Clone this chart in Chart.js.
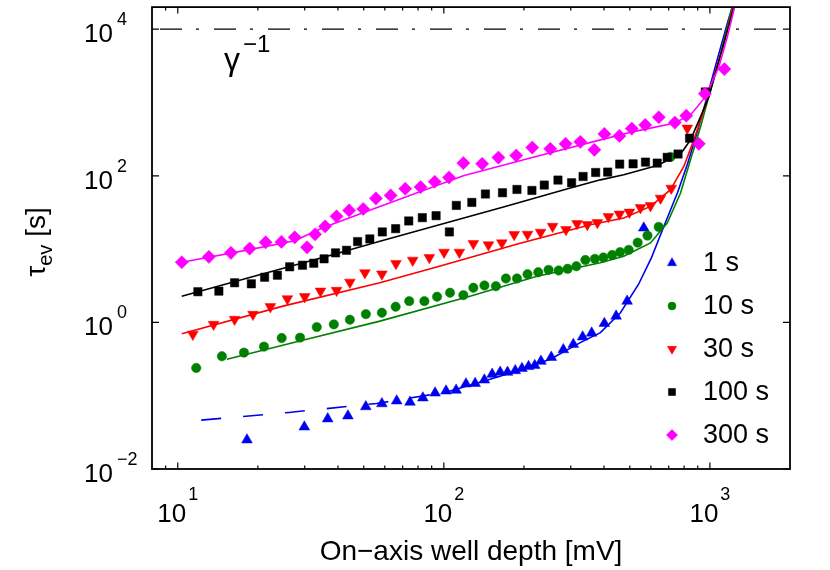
<!DOCTYPE html>
<html>
<head>
<meta charset="utf-8">
<script src="https://cdn.jsdelivr.net/npm/chart.js@4.4.1/dist/chart.umd.min.js"></script>
<style>
  html, body { margin: 0; padding: 0; background: #fff; }
  #wrap { width: 830px; height: 570px; }
</style>
</head>
<body>
<div id="wrap"><canvas id="chart" width="830" height="570"></canvas></div>
<script>
// axis ticks (powers of ten), minor x ticks
const xTickExp = [1, 2, 3];
const xMinorTicks = [9, 20, 30, 40, 50, 60, 70, 80, 90, 200, 300, 400, 500, 600, 700, 800, 900];
const yTickExp = [-2, 0, 2, 4];

const seriesLabels = ['1 s', '10 s', '30 s', '100 s', '300 s'];
const gammaInv = 1e4;

// 1 s
const depth1 = [18.2, 29.9, 36.6, 43.6, 50.9, 58.5, 66.5, 74.6, 83.4, 92.7, 101.9, 111.2, 121.1, 131.1, 142, 151.9, 162.8, 173.5, 185.5, 196.6, 208.1, 219.6, 231.7, 253.4, 281.2, 306.6, 332.4, 359.4, 401.2, 444.1, 488.5, 564.2];
const tau1 = [0.025, 0.0375, 0.0484, 0.0531, 0.0709, 0.0778, 0.085, 0.0816, 0.0934, 0.109, 0.116, 0.119, 0.145, 0.147, 0.164, 0.196, 0.209, 0.209, 0.22, 0.235, 0.25, 0.258, 0.295, 0.334, 0.425, 0.502, 0.635, 0.715, 0.969, 1.22, 1.95, 19.4];
const fitDepth1 = [12.25, 26.2, 55.9, 101.9, 162.8, 251.2, 325.8, 387.6, 461.1, 538.8, 603.2, 675.2, 755.4, 824.1, 898.8, 980.2, 1069, 1166, 1228];
const fitTau1 = [0.0464, 0.0591, 0.0783, 0.1116, 0.184, 0.314, 0.53, 0.724, 1.355, 3.29, 7.66, 21.5, 58.7, 145.6, 409.6, 1265, 4031, 12450, 23280];
const dashedUpTo1 = 102;

// 10 s
const depth10 = [11.73, 14.65, 17.73, 21.08, 24.58, 28.81, 33.3, 38.59, 44.34, 50.93, 58.5, 65.9, 74.1, 84.5, 94.3, 105.5, 118.4, 129.1, 142.1, 156.9, 171.1, 188.3, 206.3, 226.4, 247.5, 270.1, 291.9, 314.8, 340.3, 369.6, 397.8, 429.1, 459.8, 495.3, 535.1, 582.5, 642, 711.2];
const tau10 = [0.239, 0.345, 0.387, 0.467, 0.612, 0.619, 0.863, 0.939, 1.088, 1.297, 1.355, 1.636, 1.949, 1.949, 2.237, 2.536, 2.351, 2.966, 3.187, 3.118, 3.968, 3.968, 4.54, 4.83, 5.21, 5.1, 5.38, 5.83, 7.09, 7.36, 7.66, 8.29, 9.1, 9.75, 12.25, 15.27, 20.05, 181.3];
const fitDepth10 = [15.3, 28.73, 57.5, 125.5, 223.9, 387.6, 474.5, 598, 691.1, 775.6, 845.6, 922.6, 1006, 1097, 1196, 1225];
const fitTau10 = [0.314, 0.557, 1.04, 2.28, 4.27, 6.49, 7.98, 12.14, 22.7, 58.2, 165.1, 468.6, 1479, 4670, 16360, 23000];

// 30 s
const depth30 = [11.39, 13.63, 16.35, 19.17, 22.28, 25.82, 30, 34.38, 39.51, 44.34, 50.5, 58.5, 66.07, 76.4, 88.2, 100.2, 114.4, 129.1, 147.1, 165.2, 183.8, 206.3, 231, 256.3, 287.8, 316.7, 346.2, 377.6, 415.3, 457, 498.3, 548.3, 598, 652.2, 715.5, 822.2];
const tau30 = [0.687, 0.939, 1.099, 1.285, 1.636, 2.1, 2.24, 2.67, 2.73, 3.53, 4.75, 4.57, 6.35, 7.04, 7.66, 9.05, 9.05, 11.88, 11.41, 12.14, 15.75, 15.9, 16.93, 20.4, 18.42, 22.23, 21.54, 22.94, 27.68, 29.94, 31.87, 36.7, 39.07, 49.4, 67.6, 445.6];
const fitDepth30 = [10.35, 24.86, 57.5, 94, 193.6, 355.3, 474.5, 598, 711.2, 798, 870.5, 949.3, 1035, 1129, 1214, 1240];
const fitTau30 = [0.702, 1.666, 3.47, 5.7, 12.0, 21.5, 26.6, 38.2, 64.5, 133.8, 309, 790.7, 2244, 6389, 18140, 23000];

// 100 s
const depth100 = [11.9, 14.27, 16.35, 18.9, 21.2, 23.68, 26.34, 29.42, 32.44, 35.47, 39.16, 43.08, 47.4, 52.7, 58.7, 65.9, 73.8, 83, 93.5, 104.9, 111.4, 127.4, 143.3, 166.1, 188.3, 214.3, 238.5, 268.5, 302.1, 333.7, 372.1, 412.8, 458.1, 514.4, 572.6, 633.8, 691.1, 759, 838.4, 960.9];
const tau100 = [2.62, 2.67, 3.47, 3.36, 4.13, 4.4, 5.73, 6.02, 6.41, 7.36, 8.88, 9.63, 12.65, 13.76, 17.14, 19, 24.19, 26.83, 28.56, 17.14, 39.4, 43.3, 56.4, 58.7, 65.1, 63.1, 74.7, 87.4, 80.3, 97.8, 110.9, 112.3, 144.3, 145.6, 153.6, 148.9, 178.5, 198, 325.8, 1390];
const fitDepth100 = [10.35, 18.62, 37.3, 57.5, 94, 167.5, 298.8, 387.6, 474.5, 633.8, 721.6, 787, 845.6, 922.6, 991, 1066, 1146, 1231, 1242];
const fitTau100 = [2.28, 4.1, 8.2, 12.8, 21, 37.5, 68, 88, 103.2, 138.1, 174.1, 214.1, 309, 641, 1199, 3069, 7857, 20110, 23000];

// 300 s
const depth300 = [10.35, 13.09, 15.84, 18.62, 21.39, 24.52, 27.51, 30.61, 32.81, 35.79, 39.51, 44.06, 49.77, 55.54, 63.1, 71.6, 81.8, 92.4, 104.6, 118.4, 139.3, 160.4, 187.1, 214.9, 251.2, 286.8, 325.8, 367.9, 401.2, 457, 508.5, 571.2, 642.6, 738.3, 814.9, 908.8, 957.6, 1133];
const tau300 = [6.61, 7.83, 8.88, 10.16, 12.37, 12.53, 14.47, 10.58, 15.9, 20.43, 27.94, 33.72, 35.23, 49.12, 53.95, 66.56, 70.2, 82.9, 94.8, 148.9, 145.6, 177.4, 188.9, 242.7, 232.9, 272.5, 290.1, 225.8, 372.7, 350.1, 440.1, 494.1, 628.9, 531.1, 661.4, 272.5, 1317, 2856];
const fitDepth300 = [10.35, 18.62, 27.5, 35.1, 57.5, 118.4, 214.9, 387.6, 517.2, 731.8, 845.6, 963.4, 1081, 1163, 1239, 1250];
const fitTau300 = [6.61, 9.84, 13.0, 19.6, 38.2, 100, 177, 309, 400.6, 521, 676, 1199, 3069, 7857, 20110, 23000];

const FONT = "'Liberation Sans', Arial, Helvetica, sans-serif";
const colors = ['#0000f0', '#008000', '#ff0000', '#000000', '#ff00ff'];
const styles = [
  { pointStyle: 'triangle', radius: 6.2, rotation: 0 },
  { pointStyle: 'circle', radius: 4.7, rotation: 0 },
  { pointStyle: 'triangle', radius: 6.2, rotation: 180 },
  { pointStyle: 'rect', radius: 5.9, rotation: 0 },
  { pointStyle: 'rectRot', radius: 6.6, rotation: 0 }
];

function pts(xs, ys) {
  return xs.map((v, i) => ({ x: v, y: ys[i] }));
}

const markerSets = [[depth1, tau1], [depth10, tau10], [depth30, tau30], [depth100, tau100], [depth300, tau300]];
const fitSets = [[fitDepth1, fitTau1], [fitDepth10, fitTau10], [fitDepth30, fitTau30], [fitDepth100, fitTau100], [fitDepth300, fitTau300]];

const datasets = [];
markerSets.forEach((s, i) => {
  datasets.push({
    label: seriesLabels[i],
    data: pts(s[0], s[1]),
    showLine: false,
    order: 6 - i, // later series drawn on top
    pointStyle: styles[i].pointStyle,
    pointRadius: styles[i].radius,
    pointRotation: styles[i].rotation,
    pointBackgroundColor: colors[i],
    pointBorderColor: colors[i],
    pointBorderWidth: 0.5,
    isMarker: true
  });
});
fitSets.forEach((s, i) => {
  const ds = {
    label: seriesLabels[i] + ' fit',
    data: pts(s[0], s[1]),
    showLine: true,
    order: 20 - i,
    pointRadius: 0,
    borderColor: colors[i],
    borderWidth: 1.6,
    tension: 0,
    clip: 0
  };
  if (i === 0) {
    ds.segment = { borderDash: c => (c.p1.parsed.x <= dashedUpTo1 ? [20, 22] : undefined) };
  }
  datasets.push(ds);
});
datasets.push({
  label: 'gamma',
  data: [{ x: 8, y: gammaInv }, { x: 2000, y: gammaInv }],
  showLine: true,
  order: 30,
  pointRadius: 0,
  borderColor: '#000',
  borderWidth: 1.4,
  borderDash: [22, 14, 3, 15],
  borderDashOffset: 46
});

function fitText(ctx, size) { ctx.font = size + 'px ' + FONT; }

const framePlugin = {
  id: 'frame',
  afterDraw(chart) {
    const ctx = chart.ctx;
    const a = chart.chartArea;
    const xs = chart.scales.x, ys = chart.scales.y;
    ctx.save();
    ctx.strokeStyle = '#000';
    ctx.fillStyle = '#000';
    ctx.lineWidth = 1.8;
    ctx.strokeRect(a.left, a.top, a.right - a.left, a.bottom - a.top);

    ctx.lineWidth = 1.2;
    ctx.beginPath();
    xTickExp.forEach(e => {
      const px = xs.getPixelForValue(Math.pow(10, e));
      ctx.moveTo(px, a.bottom); ctx.lineTo(px, a.bottom - 6.5);
      ctx.moveTo(px, a.top); ctx.lineTo(px, a.top + 6.5);
    });
    xMinorTicks.forEach(v => {
      const px = xs.getPixelForValue(v);
      ctx.moveTo(px, a.bottom); ctx.lineTo(px, a.bottom - 3.5);
      ctx.moveTo(px, a.top); ctx.lineTo(px, a.top + 3.5);
    });
    yTickExp.forEach(e => {
      const py = ys.getPixelForValue(Math.pow(10, e));
      ctx.moveTo(a.left, py); ctx.lineTo(a.left + 7, py);
      ctx.moveTo(a.right, py); ctx.lineTo(a.right - 7, py);
    });
    ctx.stroke();

    ctx.textBaseline = 'alphabetic';
    // x tick labels
    xTickExp.forEach(e => {
      const px = xs.getPixelForValue(Math.pow(10, e));
      fitText(ctx, 26); const wb = ctx.measureText('10').width;
      fitText(ctx, 18); const sup = String(e); const ws = ctx.measureText(sup).width;
      const x0 = px - (wb + ws + 2) / 2;
      ctx.textAlign = 'left';
      fitText(ctx, 26); ctx.fillText('10', x0, a.bottom + 53);
      fitText(ctx, 18); ctx.fillText(sup, x0 + wb + 2, a.bottom + 31);
    });
    // y tick labels
    yTickExp.forEach(e => {
      const py = ys.getPixelForValue(Math.pow(10, e));
      const sup = e < 0 ? '\u2212' + Math.abs(e) : String(e);
      ctx.textAlign = 'right';
      fitText(ctx, 26); ctx.fillText('10', a.left - 39, py + 13);
      ctx.textAlign = 'left';
      fitText(ctx, 18); ctx.fillText(sup, a.left - 35, py - 4);
    });

    // gamma^-1 label
    ctx.textAlign = 'left';
    fitText(ctx, 32); ctx.fillText('\u03b3', 224, 70);
    fitText(ctx, 24); ctx.fillText('\u22121', 243, 52);

    // x axis title
    ctx.textAlign = 'center';
    fitText(ctx, 28);
    ctx.fillText('On\u2212axis well depth [mV]', (a.left + a.right) / 2, 560);

    // y axis title
    ctx.save();
    ctx.translate(45, (a.top + a.bottom) / 2 + 4);
    ctx.rotate(-Math.PI / 2);
    fitText(ctx, 28); const wt = ctx.measureText('\u03c4').width; const wr = ctx.measureText(' [s]').width;
    fitText(ctx, 20); const we = ctx.measureText('ev').width;
    let u = -(wt + we + wr) / 2;
    ctx.textAlign = 'left';
    fitText(ctx, 28); ctx.fillText('\u03c4', u, 0); u += wt;
    fitText(ctx, 20); ctx.fillText('ev', u, 7); u += we;
    fitText(ctx, 28); ctx.fillText(' [s]', u, 0);
    ctx.restore();

    // legend
    const legX = 672, legY = 263, legStep = 43;
    chart.data.datasets.filter(d => d.isMarker).forEach((d, i) => {
      const yy = legY + i * legStep;
      ctx.fillStyle = d.pointBackgroundColor;
      ctx.strokeStyle = d.pointBorderColor;
      ctx.lineWidth = 0.5;
      Chart.helpers.drawPoint(ctx, {
        pointStyle: d.pointStyle, radius: d.pointRadius * 0.85, rotation: d.pointRotation, borderWidth: 0.5
      }, legX, yy);
      ctx.fillStyle = '#000';
      ctx.textAlign = 'left';
      ctx.textBaseline = 'middle';
      fitText(ctx, 27);
      ctx.fillText(d.label, legX + 31, yy + 1);
    });
    ctx.restore();
  }
};

new Chart(document.getElementById('chart').getContext('2d'), {
  type: 'scatter',
  data: { datasets: datasets },
  options: {
    responsive: false,
    animation: false,
    layout: { padding: { left: 152, top: 7, right: 40, bottom: 101 } },
    plugins: { legend: { display: false }, tooltip: { enabled: false } },
    scales: {
      x: { type: 'logarithmic', min: 8, max: 2000, display: false },
      y: { type: 'logarithmic', min: 0.01, max: 20000, display: false }
    }
  },
  plugins: [framePlugin]
});
</script>
</body>
</html>
